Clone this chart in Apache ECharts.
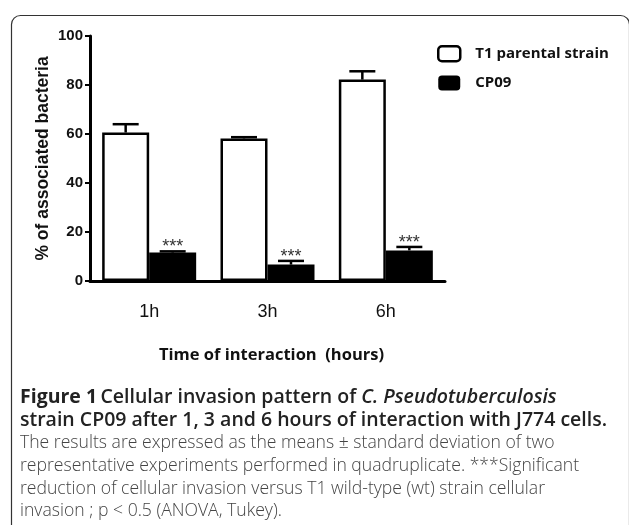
<!DOCTYPE html>
<html>
<head>
<meta charset="utf-8">
<script src="https://cdn.jsdelivr.net/npm/echarts@6/dist/echarts.min.js"></script>
<style>html,body{margin:0;padding:0;background:#fff;}#c{width:629px;height:525px;}</style>
</head>
<body>
<div id="c"></div>
<script>
const categories = ['1h', '3h', '6h'];
const seriesNames = ['T1 parental strain', 'CP09'];
const t1Mean = [60.6, 58.2, 82.2];
const t1Upper = [64.0, 58.7, 85.6];
const cp09Mean = [11.6, 6.7, 12.5];
const cp09Upper = [12.1, 8.2, 13.9];
const yTicks = [0, 20, 40, 60, 80, 100];
const sigMarks = ['***', '***', '***'];

const BAR_W = 47;
const CAP_W = 26;
const NARROW = '"Liberation Sans Narrow", "Arial Narrow", "Liberation Sans", Arial, sans-serif';

function errorRender(offset, marks) {
  return function (params, api) {
    const i = api.value(0);
    const base = api.coord([i, api.value(1)]);
    const top = api.coord([i, api.value(2)]);
    const x = base[0] + offset;
    const children = [
      { type: 'line', shape: { x1: x, y1: base[1], x2: x, y2: top[1] }, style: { stroke: '#000', lineWidth: 2.5 } },
      { type: 'line', shape: { x1: x - CAP_W / 2, y1: top[1], x2: x + CAP_W / 2, y2: top[1] }, style: { stroke: '#000', lineWidth: 2.5 } }
    ];
    if (marks) {
      children.push({ type: 'text', style: { text: marks[params.dataIndex], x: x, y: top[1] - 4, align: 'center', verticalAlign: 'middle', fill: '#333', font: '18px "Liberation Sans", Arial, sans-serif' } });
    }
    return { type: 'group', children: children };
  };
}

const chart = echarts.init(document.getElementById('c'));
chart.setOption({
  animation: false,
  backgroundColor: '#fff',
  grid: { left: 90, top: 36, width: 355, height: 245, containLabel: false },
  legend: {
    orient: 'vertical', left: 437, top: 45, padding: 0, itemWidth: 22, itemHeight: 15, itemGap: 13,
    data: [
      { name: seriesNames[0], icon: 'roundRect', itemStyle: { color: '#fff', borderColor: '#000', borderWidth: 2.5 } },
      { name: seriesNames[1], icon: 'roundRect', itemStyle: { color: '#000', borderColor: '#000', borderWidth: 0 } }
    ],
    textStyle: { fontFamily: '"Open Sans", sans-serif', fontWeight: 'bold', fontSize: 15, color: '#111', padding: [0, 0, 0, 10] }
  },
  xAxis: {
    type: 'category', data: categories,
    axisLine: { lineStyle: { color: '#000', width: 3 } },
    axisTick: { show: false },
    axisLabel: { color: '#111', fontSize: 18, fontFamily: NARROW, margin: 22 }
  },
  yAxis: {
    type: 'value', min: yTicks[0], max: yTicks[yTicks.length - 1], interval: yTicks[1] - yTicks[0],
    name: '% of associated bacteria', nameLocation: 'middle', nameGap: 38, nameRotate: 90, nameMoveOverlap: false,
    nameTextStyle: { fontFamily: 'Arial, "Liberation Sans", sans-serif', fontWeight: 'bold', fontSize: 17.5, color: '#111' },
    axisLine: { show: true, lineStyle: { color: '#000', width: 3 } },
    axisTick: { show: true, length: 5, lineStyle: { color: '#000', width: 2 } },
    splitLine: { show: false },
    axisLabel: { color: '#111', fontSize: 15, fontWeight: 'bold', fontFamily: NARROW, margin: 7 }
  },
  series: [
    { name: seriesNames[0], type: 'bar', data: t1Mean, barWidth: BAR_W, barGap: '0%', z: 2,
      itemStyle: { color: '#fff', borderColor: '#000', borderWidth: 2.5 } },
    { name: seriesNames[1], type: 'bar', data: cp09Mean, barWidth: BAR_W, barGap: '0%', z: 2,
      itemStyle: { color: '#000', borderColor: '#000', borderWidth: 0 } },
    { type: 'custom', renderItem: errorRender(-BAR_W / 2, null), z: 3,
      encode: { x: 0, y: [1, 2] },
      data: categories.map((c, i) => [i, t1Mean[i], t1Upper[i]]) },
    { type: 'custom', renderItem: errorRender(BAR_W / 2, sigMarks), z: 3,
      encode: { x: 0, y: [1, 2] },
      data: categories.map((c, i) => [i, cp09Mean[i], cp09Upper[i]]) }
  ],
  graphic: [
    { type: 'rect', left: 9, top: 13, shape: { width: 618, height: 540, r: 9 }, style: { fill: 'none', stroke: '#333', lineWidth: 1.2 }, z: -1 },
    { type: 'text', left: 159, top: 347, style: { text: 'Time of interaction  (hours)', font: 'bold 16.5px "Open Sans", sans-serif', fill: '#111' } },
    { type: 'text', left: 20, top: 387, style: {
        text: '{b|Figure 1} {s|Cellular invasion pattern of }{i|C. Pseudotuberculosis}',
        rich: {
          b: { font: 'bold 19.5px "Open Sans", sans-serif', fill: '#222' },
          s: { font: '600 19.5px "Open Sans", sans-serif', fill: '#222' },
          i: { font: 'italic 600 19.5px "Open Sans", sans-serif', fill: '#222' }
        } } },
    { type: 'text', left: 20, top: 410, style: { text: 'strain CP09 after 1, 3 and 6 hours of interaction with J774 cells.', font: '600 19.5px "Open Sans", sans-serif', fill: '#222' } },
    { type: 'text', left: 20, top: 434, style: { text: 'The results are expressed as the means \u00b1 standard deviation of two', font: '300 17.6px "Open Sans", sans-serif', fill: '#444' } },
    { type: 'text', left: 20, top: 457, style: { text: 'representative experiments performed in quadruplicate. ***Significant', font: '300 17.6px "Open Sans", sans-serif', fill: '#444' } },
    { type: 'text', left: 20, top: 480, style: { text: 'reduction of cellular invasion versus T1 wild-type (wt) strain cellular', font: '300 17.6px "Open Sans", sans-serif', fill: '#444' } },
    { type: 'text', left: 20, top: 502, style: { text: 'invasion ; p < 0.5 (ANOVA, Tukey).', font: '300 17.6px "Open Sans", sans-serif', fill: '#444' } }
  ]
});
</script>
</body>
</html>
